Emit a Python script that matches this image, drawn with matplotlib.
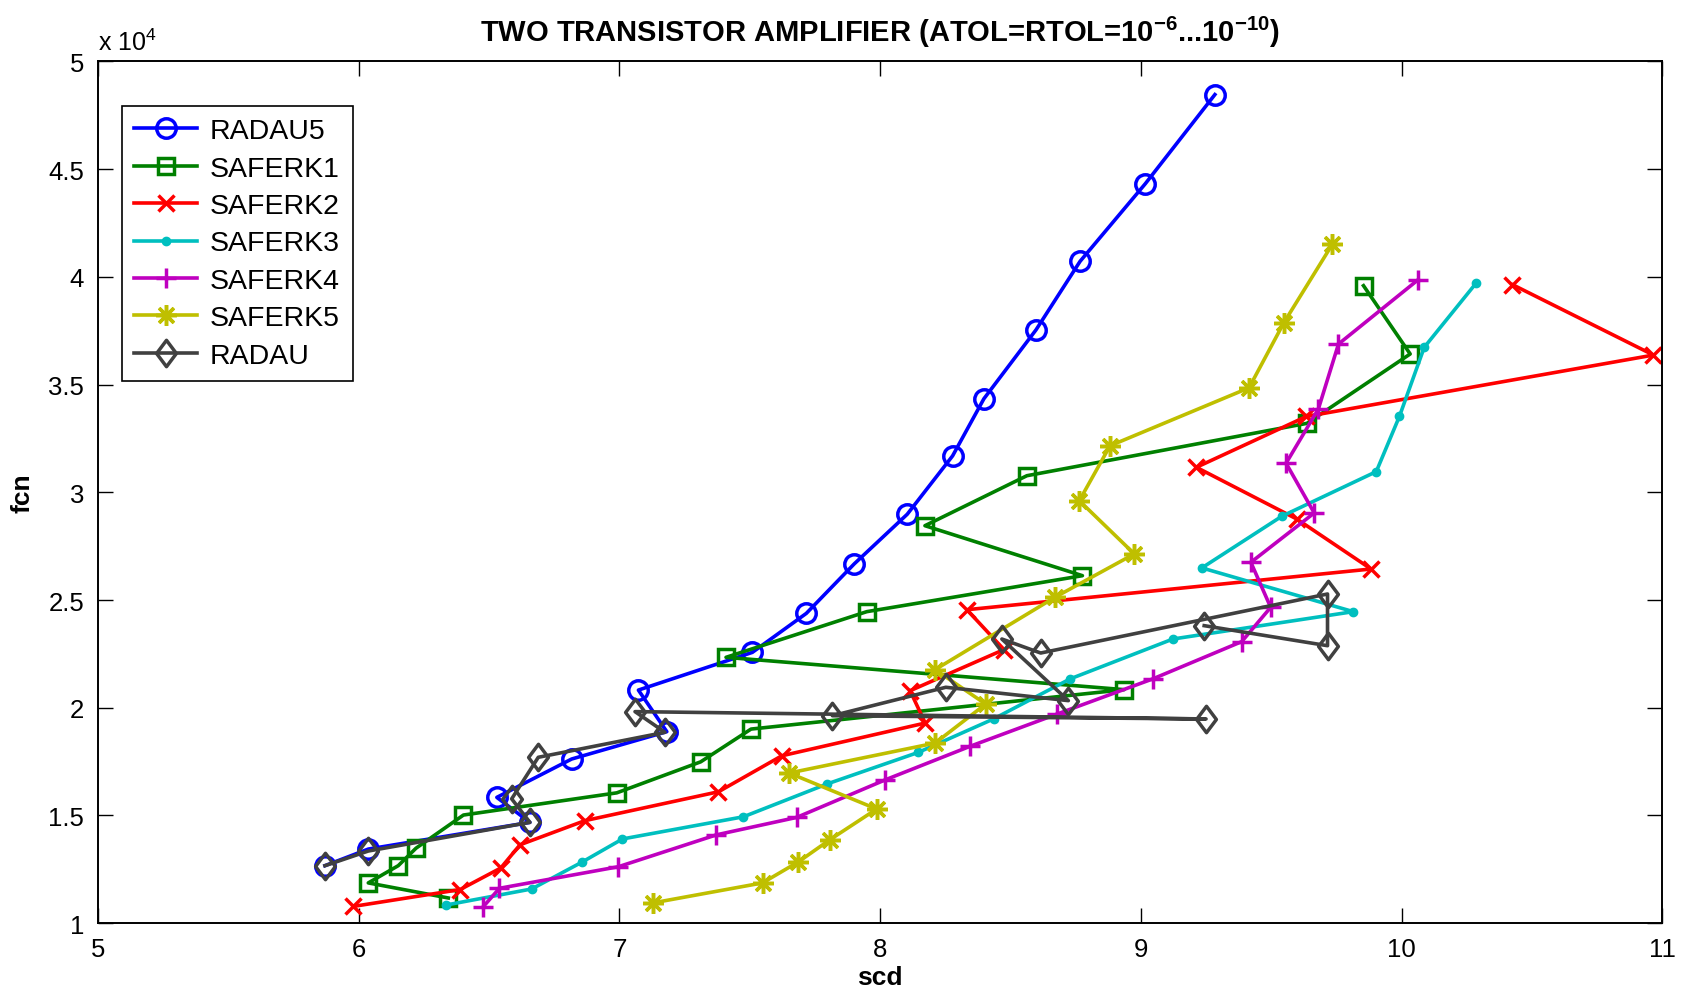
import matplotlib
matplotlib.use("Agg")
import matplotlib.pyplot as plt
from matplotlib.ticker import FuncFormatter, FixedLocator
from matplotlib.path import Path

plt.rcParams['font.family'] = ['Liberation Sans', 'DejaVu Sans']
plt.rcParams['mathtext.fontset'] = 'custom'
plt.rcParams['mathtext.rm'] = 'Liberation Sans'
plt.rcParams['mathtext.bf'] = 'Liberation Sans:bold'
plt.rcParams['mathtext.it'] = 'Liberation Sans:italic'

# ---------------- data (scd, fcn) ----------------
radau5_x = [9.284, 9.017, 8.767, 8.598, 8.398, 8.278, 8.104, 7.901, 7.717, 7.510, 7.073, 7.182, 6.817, 6.530, 6.657, 6.037, 5.871]
radau5_y = [48460, 44320, 40720, 37540, 34340, 31690, 28980, 26680, 24380, 22570, 20820, 18890, 17620, 15840, 14680, 13440, 12670]

saferk1_x = [6.344, 6.037, 6.152, 6.220, 6.402, 6.990, 7.312, 7.505, 8.936, 7.409, 7.949, 8.776, 8.172, 8.563, 9.637, 10.033, 9.854]
saferk1_y = [11170, 11870, 12670, 13480, 15020, 16050, 17490, 19010, 20840, 22340, 24460, 26130, 28450, 30770, 33200, 36420, 39590]

saferk2_x = [5.980, 6.389, 6.545, 6.619, 6.868, 7.380, 7.623, 8.173, 8.115, 8.475, 8.333, 9.883, 9.598, 9.213, 9.635, 10.966, 10.425]
saferk2_y = [10780, 11560, 12560, 13640, 14760, 16100, 17770, 19290, 20790, 22700, 24550, 26440, 28760, 31160, 33520, 36370, 39640]

saferk3_x = [6.334, 6.664, 6.856, 7.012, 7.476, 7.796, 8.147, 8.435, 8.729, 9.123, 9.815, 9.234, 9.541, 9.903, 9.992, 10.087, 10.286]
saferk3_y = [10840, 11590, 12830, 13910, 14940, 16460, 17930, 19480, 21340, 23190, 24460, 26490, 28890, 30960, 33530, 36730, 39710]

saferk4_x = [6.476, 6.540, 6.996, 7.372, 7.680, 8.019, 8.345, 8.677, 9.046, 9.387, 9.498, 9.422, 9.665, 9.557, 9.681, 9.758, 10.064]
saferk4_y = [10740, 11620, 12620, 14100, 14910, 16650, 18210, 19700, 21340, 23070, 24660, 26750, 29040, 31350, 33870, 36880, 39870]

saferk5_x = [7.128, 7.549, 7.687, 7.808, 7.987, 7.651, 8.211, 8.405, 8.211, 8.671, 8.975, 8.764, 8.882, 9.415, 9.548, 9.735]
saferk5_y = [10940, 11870, 12850, 13880, 15300, 16970, 18360, 20170, 21770, 25130, 27140, 29610, 32160, 34850, 37860, 41520]

radau_x = [5.871, 6.037, 6.657, 6.587, 6.689, 7.175, 7.060, 9.250, 7.817, 8.252, 8.722, 8.467, 8.616, 9.716, 9.716, 9.243]
radau_y = [12670, 13350, 14680, 15770, 17700, 18860, 19820, 19480, 19630, 20950, 20330, 23190, 22540, 25280, 22880, 23810]

labels = ['RADAU5', 'SAFERK1', 'SAFERK2', 'SAFERK3', 'SAFERK4', 'SAFERK5', 'RADAU']
x_ticks = [5, 6, 7, 8, 9, 10, 11]
y_ticks = [10000, 15000, 20000, 25000, 30000, 35000, 40000, 45000, 50000]

# ---------------- styling ----------------
diamond = Path([(0, 1), (0.75, 0), (0, -1), (-0.75, 0), (0, 1)],
               [Path.MOVETO, Path.LINETO, Path.LINETO, Path.LINETO, Path.CLOSEPOLY])
asterisk = (8, 2, 0)

styles = [
    dict(color=(0, 0, 1), marker='o', ms=14),
    dict(color=(0, 0.5, 0), marker='s', ms=12),
    dict(color=(1, 0, 0), marker='x', ms=12),
    dict(color=(0, 0.75, 0.75), marker='.', ms=9),
    dict(color=(0.75, 0, 0.75), marker='+', ms=15),
    dict(color=(0.75, 0.75, 0), marker=asterisk, ms=15),
    dict(color=(0.25, 0.25, 0.25), marker=diamond, ms=19),
]
series = [(radau5_x, radau5_y), (saferk1_x, saferk1_y), (saferk2_x, saferk2_y),
          (saferk3_x, saferk3_y), (saferk4_x, saferk4_y), (saferk5_x, saferk5_y),
          (radau_x, radau_y)]

fig = plt.figure(figsize=(16.87, 9.95), dpi=100)
ax = fig.add_axes([0.05803, 0.07116, 0.92733, 0.86613])

for (xs, ys), lab, st in zip(series, labels, styles):
    face = st['color'] if st['marker'] == '.' else 'none'
    ax.plot(xs, ys, color=st['color'], lw=2.6, marker=st['marker'], ms=st['ms'],
            mfc=face, mec=st['color'], mew=2.5, label=lab)

ax.set_xlim(5, 11)
ax.set_ylim(10000, 50000)
ax.xaxis.set_major_locator(FixedLocator(x_ticks))
ax.yaxis.set_major_locator(FixedLocator(y_ticks))
ax.yaxis.set_major_formatter(FuncFormatter(lambda v, p: '%g' % (v / 1e4)))
ax.xaxis.set_major_formatter(FuncFormatter(lambda v, p: '%g' % v))

ax.tick_params(direction='in', length=11, width=1.0, top=True, right=True,
               labelsize=18.5, pad=10, colors='black')
for s in ax.spines.values():
    s.set_linewidth(1.4)
    s.set_color('black')

ax.set_xlabel('scd', fontsize=19, fontweight='bold', labelpad=3)
ax.set_ylabel('fcn', fontsize=19, fontweight='bold', labelpad=10)
ax.set_title(r'TWO TRANSISTOR AMPLIFIER (ATOL=RTOL=10$^{\mathbf{-6}}$...10$^{\mathbf{-10}}$)',
             fontsize=21, fontweight='bold', pad=15)
ax.text(0.0, 1.008, r'x 10$^4$', transform=ax.transAxes, fontsize=18,
        ha='left', va='bottom')

leg = ax.legend(loc='upper left', bbox_to_anchor=(0.0152, 0.9488), borderaxespad=0,
                fontsize=20.5, frameon=True, fancybox=False, framealpha=1,
                edgecolor='black', numpoints=1, handlelength=2.2,
                handletextpad=0.45, labelspacing=0.4, borderpad=0.45)
leg.get_frame().set_linewidth(1.2)

fig.savefig('out.png', dpi=100)
